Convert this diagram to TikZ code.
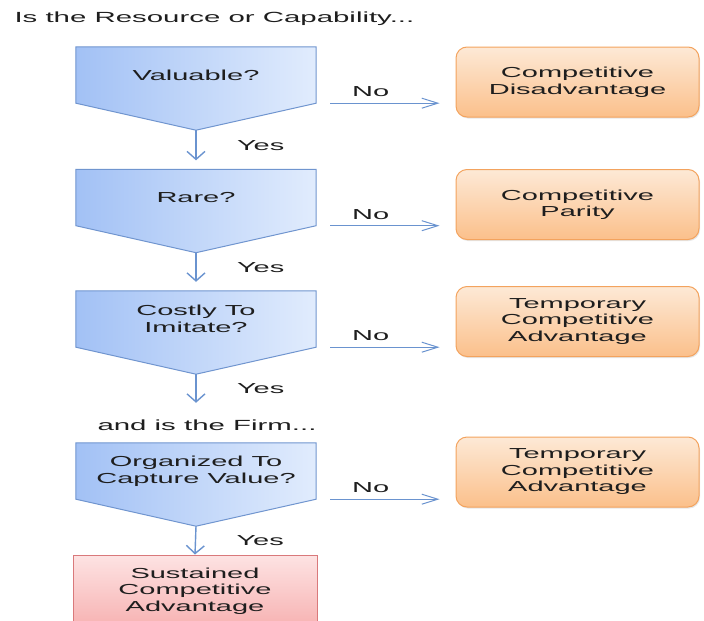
\documentclass[tikz,border=0pt]{standalone}
\usepackage{fontspec}
\setmainfont{Liberation Sans}[FakeStretch=2.0]
\usetikzlibrary{arrows.meta,calc,backgrounds,shadows}

\definecolor{qleft}{HTML}{A2C1F5}
\definecolor{qright}{HTML}{E1ECFD}
\definecolor{qline}{HTML}{7095CF}
\definecolor{flowline}{HTML}{6A93CF}
\definecolor{otop}{HTML}{FDE9D6}
\definecolor{obottom}{HTML}{FBC08B}
\definecolor{oline}{HTML}{F3A35E}
\definecolor{rtop}{HTML}{FDE3E3}
\definecolor{rbottom}{HTML}{F7B2B2}
\definecolor{rline}{HTML}{D9797B}
\definecolor{txt}{HTML}{1E1E1E}

\begin{document}
\begin{tikzpicture}
  [
    x=1pt, y=-1pt,
    every node/.style={align=center, text=txt, font=\fontsize{14.5}{16.5}\selectfont},
    heading/.style={anchor=west, font=\fontsize{14.7}{17}\selectfont},
    question/.style={minimum width=240pt, minimum height=56pt, inner sep=0pt},
    chevron/.style={draw=qline, line width=1pt, left color=qleft, right color=qright},
    outcome/.style={draw=oline, line width=1pt, rounded corners=11pt, top color=otop, bottom color=obottom,
      minimum width=243pt, minimum height=70pt, inner sep=0pt,
      drop shadow={opacity=0.2, shadow xshift=1pt, shadow yshift=-1.5pt}},
    sustained/.style={draw=rline, line width=1pt, top color=rtop, bottom color=rbottom,
      minimum width=244pt, minimum height=72pt, inner sep=0pt},
    vflow/.style={draw=flowline, line width=1.4pt, -{Straight Barb[length=8pt,width=18pt]}},
    hflow/.style={draw=flowline, line width=1pt, -{Straight Barb[length=16pt,width=10pt]}},
    yes/.style={midway, anchor=west, xshift=37pt},
    no/.style={pos=0.37, above=3pt, inner sep=3pt}
  ]
  \useasboundingbox (0,0) rectangle (704,621);

  % questions
  \node[heading] (resource) at (11,19) {Is the Resource or Capability...};
  \node[question] (valuable) at (196,75) {Valuable?};
  \node[question] (rare) at (196,197.5) {Rare?};
  \node[question] (imitate) at (196,319) {Costly To\\Imitate?};
  \node[heading] (firm) at (94,425) {and is the Firm...};
  \node[question] (organized) at (196,471) {Organized To\\Capture Value?};
  \node[sustained] (sca) at (195,591) {Sustained\\Competitive\\Advantage};

  % outcomes
  \node[outcome] (disadvantage) at (577.5,82) {Competitive\\Disadvantage};
  \node[outcome] (parity) at (577.5,204.5) {Competitive\\Parity};
  \node[outcome] (temporary) at (577.5,321.5) {Temporary\\Competitive\\Advantage};
  \node[outcome] (temporary2) at (577.5,472) {Temporary\\Competitive\\Advantage};

  \begin{scope}[on background layer]
    \foreach \q in {valuable,rare,imitate,organized}
      \path[chevron] (\q.north west) -- (\q.north east) -- (\q.south east)
        -- ([yshift=-27pt]\q.south) coordinate (\q-tip) -- (\q.south west) -- cycle;
  \end{scope}

  % yes
  \draw[vflow] (valuable-tip) -- ([yshift=9pt]rare.north) node[yes] {Yes};
  \draw[vflow] (rare-tip) -- ([yshift=9pt]imitate.north) node[yes] {Yes};
  \draw[vflow] (imitate-tip) -- ([yshift=40pt]organized.north) node[yes] {Yes};
  \draw[vflow] (organized-tip) -- (sca.north) node[yes] {Yes};

  % no
  \draw[hflow] ([xshift=14pt]valuable.south east) -- ($(valuable.south east -| disadvantage.west)+(-16pt,0)$) node[no] {No};
  \draw[hflow] ([xshift=14pt]rare.south east) -- ($(rare.south east -| parity.west)+(-16pt,0)$) node[no] {No};
  \draw[hflow] ([xshift=14pt]imitate.south east) -- ($(imitate.south east -| temporary.west)+(-16pt,0)$) node[no] {No};
  \draw[hflow] ([xshift=14pt]organized.south east) -- ($(organized.south east -| temporary2.west)+(-16pt,0)$) node[no] {No};
\end{tikzpicture}
\end{document}
